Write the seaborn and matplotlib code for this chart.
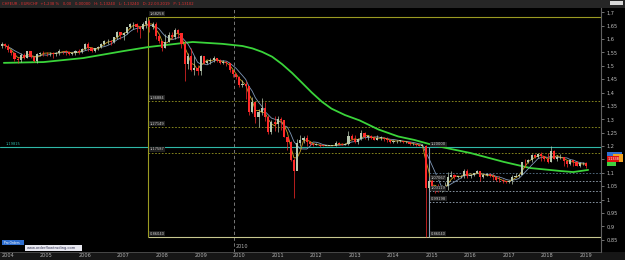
import numpy as np
import pandas as pd
import matplotlib
matplotlib.use("Agg")
import matplotlib.pyplot as plt
import matplotlib.transforms as mtrans
import seaborn as sns
from matplotlib.patches import Rectangle

sns.set_theme(style="dark")
plt.rcParams["font.family"] = ["DejaVu Sans"]

# ---------------- data (monthly EUR/CHF) ----------------
months = pd.date_range("2004-01-01", "2019-03-01", freq="MS")
first_open = 1.575
close = [
    1.580, 1.573, 1.558, 1.549, 1.524, 1.521, 1.542, 1.531, 1.554, 1.533, 1.519, 1.543,
    1.549, 1.548, 1.546, 1.549, 1.543, 1.548, 1.556, 1.554, 1.553, 1.545, 1.546, 1.556,
    1.551, 1.561, 1.580, 1.567, 1.556, 1.565, 1.569, 1.582, 1.591, 1.593, 1.589, 1.607,
    1.625, 1.614, 1.622, 1.644, 1.655, 1.655, 1.645, 1.636, 1.658, 1.668, 1.644, 1.655,
    1.611, 1.594, 1.567, 1.589, 1.615, 1.608, 1.633, 1.623, 1.582, 1.507, 1.537, 1.485,
    1.490, 1.480, 1.538, 1.512, 1.517, 1.523, 1.528, 1.519, 1.510, 1.515, 1.509, 1.483,
    1.468, 1.459, 1.430, 1.432, 1.424, 1.327, 1.363, 1.310, 1.327, 1.342, 1.307, 1.253,
    1.290, 1.284, 1.301, 1.298, 1.233, 1.216, 1.147, 1.108, 1.211, 1.223, 1.230, 1.215,
    1.208, 1.205, 1.205, 1.202, 1.201, 1.201, 1.201, 1.201, 1.210, 1.207, 1.205, 1.207,
    1.236, 1.228, 1.217, 1.226, 1.250, 1.233, 1.238, 1.232, 1.224, 1.232, 1.232, 1.226,
    1.222, 1.217, 1.219, 1.220, 1.220, 1.214, 1.215, 1.207, 1.207, 1.205, 1.202, 1.202,
    1.045, 1.070, 1.047, 1.043, 1.041, 1.043, 1.052, 1.083, 1.093, 1.084, 1.087, 1.087,
    1.108, 1.088, 1.093, 1.099, 1.108, 1.085, 1.092, 1.094, 1.088, 1.085, 1.075, 1.072,
    1.069, 1.065, 1.070, 1.086, 1.088, 1.093, 1.140, 1.139, 1.147, 1.165, 1.159, 1.170,
    1.163, 1.151, 1.140, 1.183, 1.153, 1.158, 1.161, 1.146, 1.134, 1.147, 1.140, 1.126,
    1.137, 1.137, 1.125,
]
high = [
    1.590, 1.585, 1.582, 1.560, 1.552, 1.532, 1.548, 1.546, 1.557, 1.557, 1.535, 1.547,
    1.553, 1.557, 1.553, 1.553, 1.550, 1.550, 1.563, 1.557, 1.560, 1.554, 1.553, 1.560,
    1.563, 1.566, 1.585, 1.590, 1.570, 1.567, 1.574, 1.586, 1.595, 1.600, 1.597, 1.608,
    1.629, 1.627, 1.627, 1.646, 1.659, 1.664, 1.660, 1.650, 1.664, 1.683, 1.676, 1.665,
    1.663, 1.618, 1.594, 1.618, 1.625, 1.628, 1.640, 1.637, 1.623, 1.593, 1.548, 1.568,
    1.535, 1.504, 1.542, 1.526, 1.523, 1.530, 1.535, 1.530, 1.525, 1.520, 1.517, 1.512,
    1.485, 1.473, 1.462, 1.446, 1.443, 1.423, 1.382, 1.363, 1.340, 1.381, 1.363, 1.317,
    1.296, 1.314, 1.311, 1.307, 1.298, 1.234, 1.220, 1.155, 1.225, 1.242, 1.239, 1.240,
    1.216, 1.212, 1.212, 1.208, 1.203, 1.202, 1.202, 1.202, 1.218, 1.214, 1.212, 1.211,
    1.257, 1.246, 1.240, 1.229, 1.260, 1.251, 1.240, 1.242, 1.237, 1.241, 1.236, 1.234,
    1.235, 1.226, 1.223, 1.222, 1.222, 1.220, 1.219, 1.215, 1.211, 1.211, 1.205, 1.203,
    1.203, 1.074, 1.077, 1.051, 1.058, 1.055, 1.064, 1.103, 1.106, 1.095, 1.088, 1.093,
    1.116, 1.114, 1.097, 1.100, 1.112, 1.108, 1.095, 1.098, 1.097, 1.094, 1.087, 1.088,
    1.078, 1.070, 1.073, 1.091, 1.098, 1.094, 1.141, 1.150, 1.151, 1.169, 1.169, 1.173,
    1.177, 1.164, 1.176, 1.201, 1.185, 1.165, 1.171, 1.161, 1.135, 1.147, 1.149, 1.145,
    1.139, 1.141, 1.142,
]
low = [
    1.568, 1.565, 1.552, 1.540, 1.517, 1.510, 1.516, 1.525, 1.530, 1.528, 1.514, 1.512,
    1.537, 1.538, 1.538, 1.535, 1.530, 1.535, 1.540, 1.545, 1.542, 1.540, 1.540, 1.542,
    1.544, 1.549, 1.560, 1.557, 1.550, 1.552, 1.558, 1.568, 1.577, 1.583, 1.578, 1.584,
    1.602, 1.600, 1.597, 1.617, 1.641, 1.636, 1.625, 1.605, 1.633, 1.640, 1.627, 1.637,
    1.601, 1.585, 1.557, 1.567, 1.589, 1.600, 1.602, 1.603, 1.565, 1.443, 1.487, 1.480,
    1.464, 1.465, 1.466, 1.505, 1.506, 1.506, 1.514, 1.515, 1.507, 1.506, 1.500, 1.475,
    1.460, 1.449, 1.422, 1.419, 1.376, 1.316, 1.324, 1.288, 1.271, 1.318, 1.295, 1.247,
    1.246, 1.257, 1.254, 1.262, 1.233, 1.185, 1.145, 1.007, 1.111, 1.200, 1.212, 1.202,
    1.203, 1.200, 1.203, 1.198, 1.200, 1.200, 1.200, 1.200, 1.200, 1.205, 1.203, 1.204,
    1.205, 1.222, 1.210, 1.208, 1.221, 1.225, 1.222, 1.226, 1.221, 1.222, 1.222, 1.220,
    1.217, 1.212, 1.211, 1.213, 1.216, 1.212, 1.213, 1.205, 1.204, 1.202, 1.200, 1.200,
    0.861, 1.036, 1.042, 1.024, 1.030, 1.027, 1.032, 1.037, 1.083, 1.076, 1.079, 1.079,
    1.079, 1.082, 1.082, 1.090, 1.098, 1.070, 1.081, 1.087, 1.085, 1.075, 1.071, 1.066,
    1.062, 1.063, 1.063, 1.060, 1.085, 1.084, 1.094, 1.121, 1.135, 1.140, 1.154, 1.155,
    1.145, 1.145, 1.135, 1.139, 1.150, 1.143, 1.153, 1.127, 1.122, 1.130, 1.126, 1.124,
    1.122, 1.130, 1.120,
]
# long moving average (thick green)
ma_long_year = [2004.10, 2005.13, 2006.16, 2007.20, 2007.84, 2008.74, 2009.00, 2009.77,
                2010.29, 2010.55, 2010.80, 2011.06, 2011.32, 2011.58, 2011.84, 2012.09,
                2012.35, 2012.60, 2012.95, 2013.33, 2013.82, 2014.33, 2014.75, 2015.13,
                2015.44, 2016.21, 2017.07, 2017.76, 2018.54, 2018.87, 2019.26]
ma_long_val = [1.511, 1.514, 1.529, 1.555, 1.570, 1.585, 1.589, 1.582,
               1.574, 1.565, 1.552, 1.534, 1.506, 1.473, 1.436, 1.400,
               1.366, 1.340, 1.316, 1.296, 1.262, 1.236, 1.223, 1.208,
               1.197, 1.174, 1.141, 1.118, 1.107, 1.103, 1.111]
# Fibonacci retracement levels
fib1_levels = [1.36884, 1.27149, 1.17587]
fib1_top, fib1_bottom = 1.68258, 0.86040
fib2_levels = [1.07067, 1.03119, 0.99198]
fib2_extra = 1.10
fib2_top = 1.19815
floor_level = 1.19815
fib1_start, fib2_start = 2007.84, 2015.13
year_ticks = list(range(2004, 2020))

# ---------------- derived ----------------
t = np.array([d.year + (d.month - 0.5) / 12 for d in months])
c = np.array(close)
o = np.array([first_open] + close[:-1])
h = np.array(high)
l = np.array(low)
ma_fast = pd.Series(c).rolling(3, min_periods=1).mean().values
ma_slow = pd.Series(c).rolling(6, min_periods=1).mean().values

# ---------------- figure ----------------
W, H = 625, 260
fig = plt.figure(figsize=(W / 100, H / 100), dpi=100, facecolor="black")


def fx(px):
    return px / W


def fy(py):
    return 1 - py / H


ax = fig.add_axes([0, fy(252), fx(601), fy(8) - fy(252)])
ax.set_facecolor("black")
X0, X1 = 2004.103, 2019.593
Y0, Y1 = 0.8043, 1.716
ax.set_xlim(X0, X1)
ax.set_ylim(Y0, Y1)

# reference lines
ax.axvline(2010.06, color="#8a8a8a", lw=0.6, ls=(0, (4, 3)), zorder=1)
ax.axhline(floor_level, color="#2fb8a8", lw=0.8, zorder=2)
ol = "#9a9a22"
ax.hlines(fib1_top, fib1_start, X1, color=ol, lw=0.8, zorder=2)
ax.hlines(fib1_bottom, fib1_start, X1, color="#c8c890", lw=0.8, zorder=2)
ax.vlines(fib1_start, fib1_bottom, fib1_top, color=ol, lw=0.8, zorder=2)
ax.hlines(fib1_levels, fib1_start, X1, color=ol, lw=0.6, ls=(0, (2, 2)), zorder=2)
bl = "#8aa0b8"
ax.vlines(fib2_start, fib1_bottom, fib2_top, color=bl, lw=0.8, zorder=2)
ax.hlines(fib2_levels, fib2_start, X1, color="#9aa8b8", lw=0.6, ls=(0, (2, 2)), zorder=2)
ax.hlines(fib2_extra, fib2_start, X1, color="#5a7890", lw=0.6, ls=(0, (2, 2)), zorder=2)

# moving averages
sns.lineplot(x=ma_long_year, y=ma_long_val, ax=ax, color="#3ad43a", lw=1.3, zorder=3)
sns.lineplot(x=t, y=ma_slow, ax=ax, color="#7f98b8", lw=0.6, zorder=4)
sns.lineplot(x=t, y=ma_fast, ax=ax, color="#c8a020", lw=0.6, zorder=5)

# candles
up = c >= o
cols = np.where(up, "#b8c8b0", "#ff2a2a")
ax.vlines(t, l, h, colors=cols, lw=0.5, zorder=6)
ax.bar(t, np.maximum(np.abs(c - o), 0.0015), bottom=np.minimum(o, c), width=0.055,
       color=cols, linewidth=0, zorder=7)


# fib labels
def lab(xv, yv, s, col="#d0d0d0"):
    ax.text(xv, yv, s, fontsize=2.6, color=col, ha="left", va="bottom", zorder=9,
            bbox=dict(boxstyle="square,pad=0.15", fc="#202020", ec="none"))


lab(fib1_start + 0.05, fib1_top + 0.004, "1,68258")
for v in fib1_levels:
    lab(fib1_start + 0.05, v + 0.004, f"{v:.5f}".replace(".", ","))
lab(fib1_start + 0.05, fib1_bottom + 0.004, "0,86040")
lab(fib2_start + 0.05, fib2_top + 0.002, "1,20000")
for v in fib2_levels:
    lab(fib2_start + 0.05, v + 0.004, f"{v:.5f}".replace(".", ","))
lab(fib2_start + 0.05, fib1_bottom + 0.004, "0,86040")
ax.text(X0 + 0.05, floor_level + 0.004, "1,19815", fontsize=2.6, color="#2fb8a8",
        ha="left", va="bottom", zorder=9)
ax.text(2010.12, Y0 + 0.012, "2010", fontsize=3.5, color="#b0b0b0", ha="left", va="bottom")

# axes styling
for s in ["top", "left", "bottom"]:
    ax.spines[s].set_visible(False)
ax.spines["right"].set_color("#606060")
ax.spines["right"].set_linewidth(0.8)
ax.grid(False)
ax.yaxis.tick_right()
yt = np.round(np.arange(0.85, 1.7001, 0.05), 2)
ax.set_yticks(yt)
ylabels = [(f"{v:.2f}".rstrip("0").rstrip(".")).replace(".", ",") for v in yt]
ylabels = ["" if v == 1.15 else s for v, s in zip(yt, ylabels)]  # hidden behind price boxes
ax.set_yticklabels(ylabels)
ax.tick_params(axis="y", colors="#a0a0a0", labelsize=3.6, length=2, width=0.5, pad=2,
               labelcolor="#c0c0c0")
ax.set_xticks(year_ticks)
ax.set_xticklabels([str(y) for y in year_ticks])
ax.tick_params(axis="x", colors="#707070", labelsize=3.6, length=5, width=0.5, pad=-4.5,
               labelcolor="#b0b0b0", direction="out")
offset = mtrans.ScaledTranslation(1.5 / 100, 0, fig.dpi_scale_trans)
for lbl in ax.get_xticklabels():
    lbl.set_ha("left")
    lbl.set_transform(lbl.get_transform() + offset)
ax.set_xlabel("")
ax.set_ylabel("")

# bottom axis strip
fig.add_artist(Rectangle((0, 0), 1, fy(252), transform=fig.transFigure, fc="#161616",
                         ec="none", zorder=-1))
fig.add_artist(plt.Line2D([0, fx(601)], [fy(252), fy(252)], transform=fig.transFigure,
                          color="#505050", lw=0.6))
# header
fig.add_artist(Rectangle((0, fy(8)), 1, 8 / H, transform=fig.transFigure, fc="#262626",
                         ec="none", zorder=0))
fig.text(fx(2), fy(4), "CHFEUR - EUR/CHF  +1,238 %   0,00   0,00000   H: 1,13240   L: 1,13240   D: 22.03.2019   P: 1,13102",
         fontsize=2.7, color="#e03030", va="center", ha="left")
fig.add_artist(Rectangle((fx(610), fy(5)), 13 / W, 4 / H, transform=fig.transFigure,
                         fc="#d8d8d8", ec="none"))
# bottom-left buttons
fig.add_artist(Rectangle((fx(2), fy(245)), 22 / W, 5 / H, transform=fig.transFigure,
                         fc="#2f6fd0", ec="none", zorder=10))
fig.text(fx(4), fy(242.5), "Pro Orders", fontsize=2.2, color="white", va="center", zorder=11)
fig.add_artist(Rectangle((fx(25), fy(251)), 57 / W, 6 / H, transform=fig.transFigure,
                         fc="#e8e8f0", ec="none", zorder=10))
fig.text(fx(27), fy(248), "www.orderflowtrading.com", fontsize=2.6, color="#303050",
         va="center", zorder=11)
# right price boxes
fig.add_artist(Rectangle((fx(607), fy(158)), 15 / W, 6 / H, transform=fig.transFigure,
                         fc="#3070d0", ec="none", zorder=10))
fig.add_artist(Rectangle((fx(613), fy(162)), 10 / W, 8 / H, transform=fig.transFigure,
                         fc="#f0a020", ec="none", zorder=11))
fig.add_artist(Rectangle((fx(607), fy(166)), 9 / W, 6 / H, transform=fig.transFigure,
                         fc="#40d040", ec="none", zorder=11))
fig.add_artist(Rectangle((fx(607), fy(162)), 12 / W, 6 / H, transform=fig.transFigure,
                         fc="#e01010", ec="none", zorder=12))
fig.text(fx(608), fy(159), "1,1338", fontsize=2.4, color="white", va="center", zorder=13)

fig.savefig("out.png", dpi=100, facecolor="black")
